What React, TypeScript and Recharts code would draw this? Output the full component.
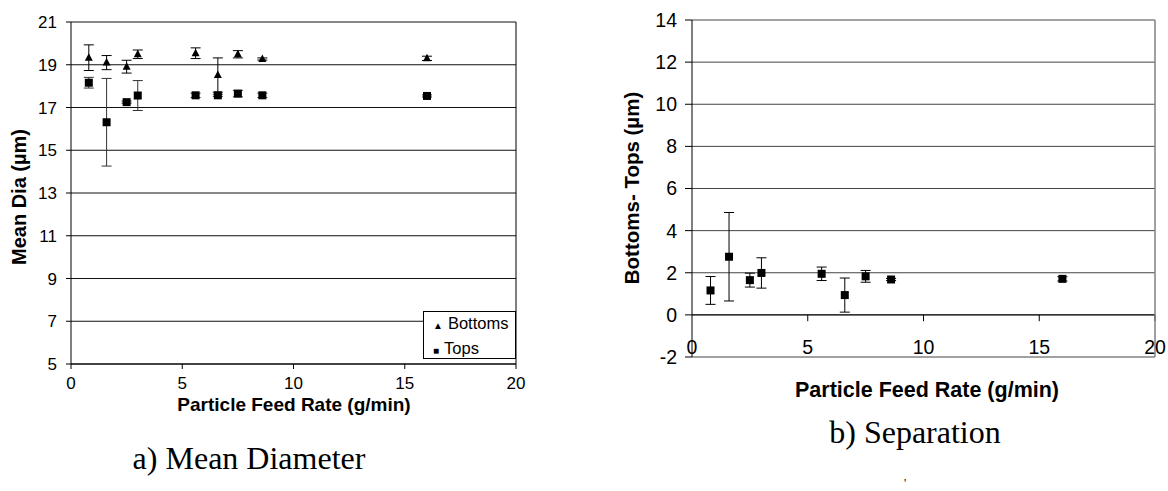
import { ScatterChart, Scatter, XAxis, YAxis, CartesianGrid, ErrorBar, ReferenceLine } from 'recharts';

// feed rate (g/min), shared by every series
const feedRate = [0.8, 1.6, 2.5, 3.0, 5.6, 6.6, 7.5, 8.6, 16];

const bottomsDia = [19.33, 19.1, 18.91, 19.49, 19.54, 18.52, 19.49, 19.27, 19.3];
const bottomsErr = [0.6, 0.33, 0.3, 0.2, 0.25, 0.8, 0.17, 0.05, 0.1];
const topsDia = [18.16, 16.31, 17.25, 17.56, 17.57, 17.57, 17.65, 17.57, 17.54];
const topsErr = [0.25, 2.05, 0.05, 0.7, 0.1, 0.05, 0.15, 0.1, 0.05];
const separation = [1.16, 2.76, 1.65, 1.99, 1.95, 0.94, 1.83, 1.68, 1.71];
const separationErr = [0.66, 2.1, 0.33, 0.72, 0.32, 0.81, 0.28, 0.05, 0.1];

const xTicks = [0, 5, 10, 15, 20];
const diaTicks = [5, 7, 9, 11, 13, 15, 17, 19, 21];
const sepTicks = [-2, 0, 2, 4, 6, 8, 10, 12, 14];

const toPoints = (ys: number[], errs: number[]) =>
  feedRate.map((x, i) => ({ x, y: ys[i], err: errs[i] }));

const bottoms = toPoints(bottomsDia, bottomsErr);
const tops = toPoints(topsDia, topsErr);
const sep = toPoints(separation, separationErr);

const SANS = '"Liberation Sans", Arial, sans-serif';
const SERIF = '"Liberation Serif", "Times New Roman", serif';
const leftTick = { fill: '#000', fontSize: 17, fontFamily: SANS };
const rightTick = { fill: '#000', fontSize: 19.5, fontFamily: SANS };

const Triangle = (p: any) => (
  <path d={`M${p.cx},${p.cy - 4.5}L${p.cx + 4},${p.cy + 3}L${p.cx - 4},${p.cy + 3}Z`} fill="#000" />
);
const Square = (p: any) => <rect x={p.cx - 4} y={p.cy - 4} width={8} height={8} fill="#000" />;

// labels sit inside the plot, just above the -2 border, like Excel does
const InnerTick = (p: any) => (
  <text x={p.x} y={p.y - 11} textAnchor="middle" fill="#000" fontSize={19.5} fontFamily={SANS}>
    {p.payload.value}
  </text>
);

const title = (x: number, y: number, text: string, size: number, rotate = false) => (
  <div
    style={{
      position: 'absolute',
      left: x,
      top: y,
      transform: `translate(-50%, -50%)${rotate ? ' rotate(-90deg)' : ''}`,
      whiteSpace: 'nowrap',
      fontFamily: SANS,
      fontWeight: 'bold',
      fontSize: size,
    }}
  >
    {text}
  </div>
);

const caption = (x: number, y: number, text: string) => (
  <div
    style={{
      position: 'absolute',
      left: x,
      top: y,
      transform: 'translate(-50%, -50%)',
      whiteSpace: 'nowrap',
      fontFamily: SERIF,
      fontSize: 32,
    }}
  >
    {text}
  </div>
);

export default function App() {
  return (
    <div style={{ position: 'absolute', left: 0, top: 0, width: 1168, height: 491, background: '#fff', overflow: 'hidden' }}>
      <div style={{ position: 'absolute', left: 0, top: 0 }}>
        <ScatterChart width={600} height={491} margin={{ top: 22, right: 84, bottom: 97, left: 21 }}>
          <CartesianGrid vertical={false} stroke="#111" />
          <XAxis
            type="number"
            dataKey="x"
            domain={[0, 20]}
            ticks={xTicks}
            height={30}
            stroke="#000"
            tickSize={5}
            tickMargin={8}
            tick={leftTick}
          />
          <YAxis
            type="number"
            dataKey="y"
            domain={[5, 21]}
            ticks={diaTicks}
            width={50}
            stroke="#000"
            tickSize={5}
            tickMargin={9}
            tick={leftTick}
          />
          <ReferenceLine x={20} stroke="#000" />
          <Scatter data={bottoms} shape={Triangle} isAnimationActive={false}>
            <ErrorBar dataKey="err" direction="y" width={5} stroke="#000" strokeWidth={1} />
          </Scatter>
          <Scatter data={tops} shape={Square} isAnimationActive={false}>
            <ErrorBar dataKey="err" direction="y" width={5} stroke="#333" strokeWidth={1} />
          </Scatter>
        </ScatterChart>
        <div
          style={{
            position: 'absolute',
            left: 423,
            top: 311,
            width: 91,
            height: 46,
            border: '1px solid #000',
            background: '#fff',
            fontFamily: SANS,
            fontSize: 16.5,
            lineHeight: '23px',
          }}
        >
          <div style={{ paddingLeft: 9 }}>
            <span style={{ fontSize: 10, marginRight: 5 }}>▲</span>Bottoms
          </div>
          <div style={{ paddingLeft: 9 }}>
            <span style={{ fontSize: 10, marginRight: 5 }}>■</span>Tops
          </div>
        </div>
      </div>

      <div style={{ position: 'absolute', left: 590, top: 0 }}>
        <ScatterChart width={578} height={491} margin={{ top: 20, right: 13, bottom: 104, left: 52 }}>
          <CartesianGrid vertical={false} stroke="#444" />
          <XAxis
            type="number"
            dataKey="x"
            domain={[0, 20]}
            ticks={xTicks}
            height={30}
            axisLine={false}
            tickLine={false}
            tickSize={6}
            tickMargin={2}
            tick={<InnerTick />}
          />
          <YAxis
            type="number"
            dataKey="y"
            domain={[-2, 14]}
            ticks={sepTicks}
            width={50}
            stroke="#000"
            tickSize={7}
            tickMargin={8}
            tick={rightTick}
          />
          <ReferenceLine y={0} stroke="#000" />
          {xTicks.slice(1).map(t => (
            <ReferenceLine key={t} segment={[{ x: t, y: 0 }, { x: t, y: -0.3 }]} stroke="#000" />
          ))}
          <ReferenceLine x={20} stroke="#808080" strokeWidth={1.5} />
          <Scatter data={sep} shape={Square} isAnimationActive={false}>
            <ErrorBar dataKey="err" direction="y" width={5} stroke="#000" strokeWidth={1} />
          </Scatter>
        </ScatterChart>
      </div>

      {title(19, 197, 'Mean Dia (µm)', 20, true)}
      {title(294, 405, 'Particle Feed Rate (g/min)', 19)}
      {caption(249, 458, 'a) Mean Diameter')}

      {title(632, 188, 'Bottoms- Tops (µm)', 20.5, true)}
      {title(927, 390, 'Particle Feed Rate (g/min)', 21.5)}
      {caption(915, 432, 'b) Separation')}
      <div style={{ position: 'absolute', left: 904, top: 477, fontFamily: SERIF, fontSize: 12, lineHeight: '12px' }}>'</div>
    </div>
  );
}
